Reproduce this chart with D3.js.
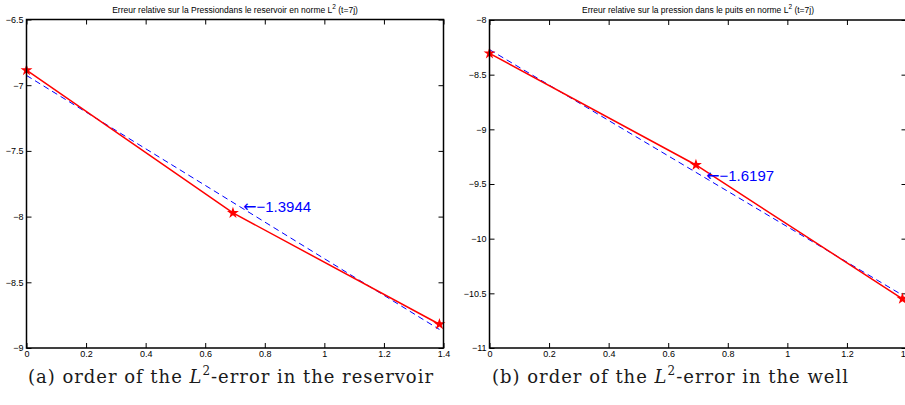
<!DOCTYPE html>
<html><head><meta charset="utf-8">
<script src="https://cdn.jsdelivr.net/npm/d3@7"></script>
<style>body{margin:0;background:#fff}svg{display:block}</style>
</head><body>
<svg id="fig" width="905" height="405"></svg>
<script>
// log of the refinement factor for the three meshes (h, h/2, h/4)
const logSteps = [0, 0.6931, 1.3863];
// log of the relative L2 error at t = 7 days
const reservoirErr = [-6.886, -7.972, -8.819];
const wellErr = [-8.305, -9.326, -10.550];
// fitted convergence slopes
const reservoirSlope = -1.3944;
const wellSlope = -1.6197;
const slopeLabelX = 0.727;

const xTicks = [0, 0.2, 0.4, 0.6, 0.8, 1, 1.2, 1.4];
const reservoirTicks = [-9, -8.5, -8, -7.5, -7, -6.5];
const wellTicks = [-11, -10.5, -10, -9.5, -9, -8.5, -8];

const titles = ["Erreur relative sur la Pressiondans le reservoir en norme L",
                "Erreur relative sur la pression dans le puits en norme L"];
const captionTags = ["(a)", "(b)"];
const captionPlaces = ["reservoir", "well"];

const svg = d3.select("#fig");
const sans = "'Liberation Sans', Arial, Helvetica, sans-serif";

const panels = [
  {left: 26.5, right: 443.5, top: 19.5, bottom: 348, ydom: [-9, -6.5], yticks: reservoirTicks,
   err: reservoirErr, slope: reservoirSlope, title: titles[0], tag: captionTags[0], place: captionPlaces[0],
   capLeft: 28, capRight: 433},
  {left: 489.5, right: 906.5, top: 20, bottom: 348, ydom: [-11, -8], yticks: wellTicks,
   err: wellErr, slope: wellSlope, title: titles[1], tag: captionTags[1], place: captionPlaces[1],
   capLeft: 492, capRight: 848}
];

const fmt = d3.format("");

panels.forEach(p => {
  const x = d3.scaleLinear().domain([0, 1.4]).range([p.left, p.right]);
  const y = d3.scaleLinear().domain(p.ydom).range([p.bottom, p.top]);
  const g = svg.append("g");

  const styleAxis = sel => {
    sel.select(".domain").remove();
    sel.selectAll(".tick line").attr("stroke", "#000").attr("stroke-width", 1);
    sel.selectAll(".tick text").attr("fill", "#000");
    sel.attr("font-family", sans).attr("font-size", 9);
  };

  g.append("g").attr("transform", `translate(${p.left},0)`)
    .call(d3.axisLeft(y).tickValues(p.yticks).tickFormat(fmt).tickSize(-5).tickPadding(3))
    .call(styleAxis);
  g.append("g").attr("transform", `translate(${p.right},0)`)
    .call(d3.axisRight(y).tickValues(p.yticks).tickFormat("").tickSize(-5))
    .call(styleAxis);
  g.append("g").attr("transform", `translate(0,${p.bottom})`)
    .call(d3.axisBottom(x).tickValues(xTicks).tickFormat(fmt).tickSize(-5).tickPadding(3))
    .call(styleAxis);
  g.append("g").attr("transform", `translate(0,${p.top})`)
    .call(d3.axisTop(x).tickValues(xTicks).tickFormat("").tickSize(-5))
    .call(styleAxis);

  // least-squares line with the stated slope
  const meanX = d3.mean(logSteps), meanY = d3.mean(p.err);
  const icpt = meanY - p.slope * meanX;
  const fit = t => icpt + p.slope * t;
  const ends = [logSteps[0], logSteps[logSteps.length - 1]];

  g.append("path")
    .attr("d", d3.line().x(d => x(d)).y(d => y(fit(d)))(ends))
    .attr("fill", "none").attr("stroke", "#0000ff").attr("stroke-width", 1)
    .attr("stroke-dasharray", "6,4");

  g.append("path")
    .attr("d", d3.line().x((d, i) => x(logSteps[i])).y(d => y(d))(p.err))
    .attr("fill", "none").attr("stroke", "#ff0000").attr("stroke-width", 1.5);

  g.selectAll("path.star").data(p.err).join("path")
    .attr("class", "star")
    .attr("transform", (d, i) => `translate(${x(logSteps[i])},${y(d)})`)
    .attr("d", d3.symbol(d3.symbolStar, 44))
    .attr("fill", "#ff0000");

  // slope label with a leftward arrow pointing at the fitted line
  const lab = g.append("text")
    .attr("x", x(slopeLabelX)).attr("y", y(fit(slopeLabelX)) - 3)
    .attr("dominant-baseline", "central")
    .attr("font-family", sans).attr("font-size", 15).attr("fill", "#0000ff");
  lab.append("tspan").attr("font-family", "'DejaVu Sans', sans-serif").attr("font-size", 16).text("\u2190");
  lab.append("tspan").text("\u2212" + Math.abs(p.slope).toFixed(4));

  // frame
  g.append("rect")
    .attr("x", p.left).attr("y", p.top)
    .attr("width", p.right - p.left).attr("height", p.bottom - p.top)
    .attr("fill", "none").attr("stroke", "#000").attr("stroke-width", 1.5);

  // title
  const t = g.append("text")
    .attr("x", (p.left + p.right) / 2).attr("y", p.top - 7)
    .attr("text-anchor", "middle").attr("font-family", sans).attr("font-size", 8.5).attr("fill", "#000");
  t.append("tspan").text(p.title);
  t.append("tspan").attr("font-size", 6.5).attr("dy", -4).text("2");
  t.append("tspan").attr("dy", 4).text(" (t=7j)");

  // subfigure caption, spread to span its column
  const c = g.append("text")
    .attr("x", p.capLeft).attr("y", 383)
    .attr("font-family", "'DejaVu Serif', serif")
    .attr("font-size", 18).attr("fill", "#1a1a1a");
  c.append("tspan").text(p.tag + " order of the ");
  c.append("tspan").attr("font-style", "italic").text("L");
  c.append("tspan").attr("font-size", 12).attr("dy", -8).text("2");
  c.append("tspan").attr("dy", 8).text("-error in the " + p.place);
  const w = c.node().getComputedTextLength();
  const n = c.text().length;
  const ls = (p.capRight - p.capLeft - w) / (n - 1);
  c.attr("letter-spacing", ls);
});
</script>
</body></html>
